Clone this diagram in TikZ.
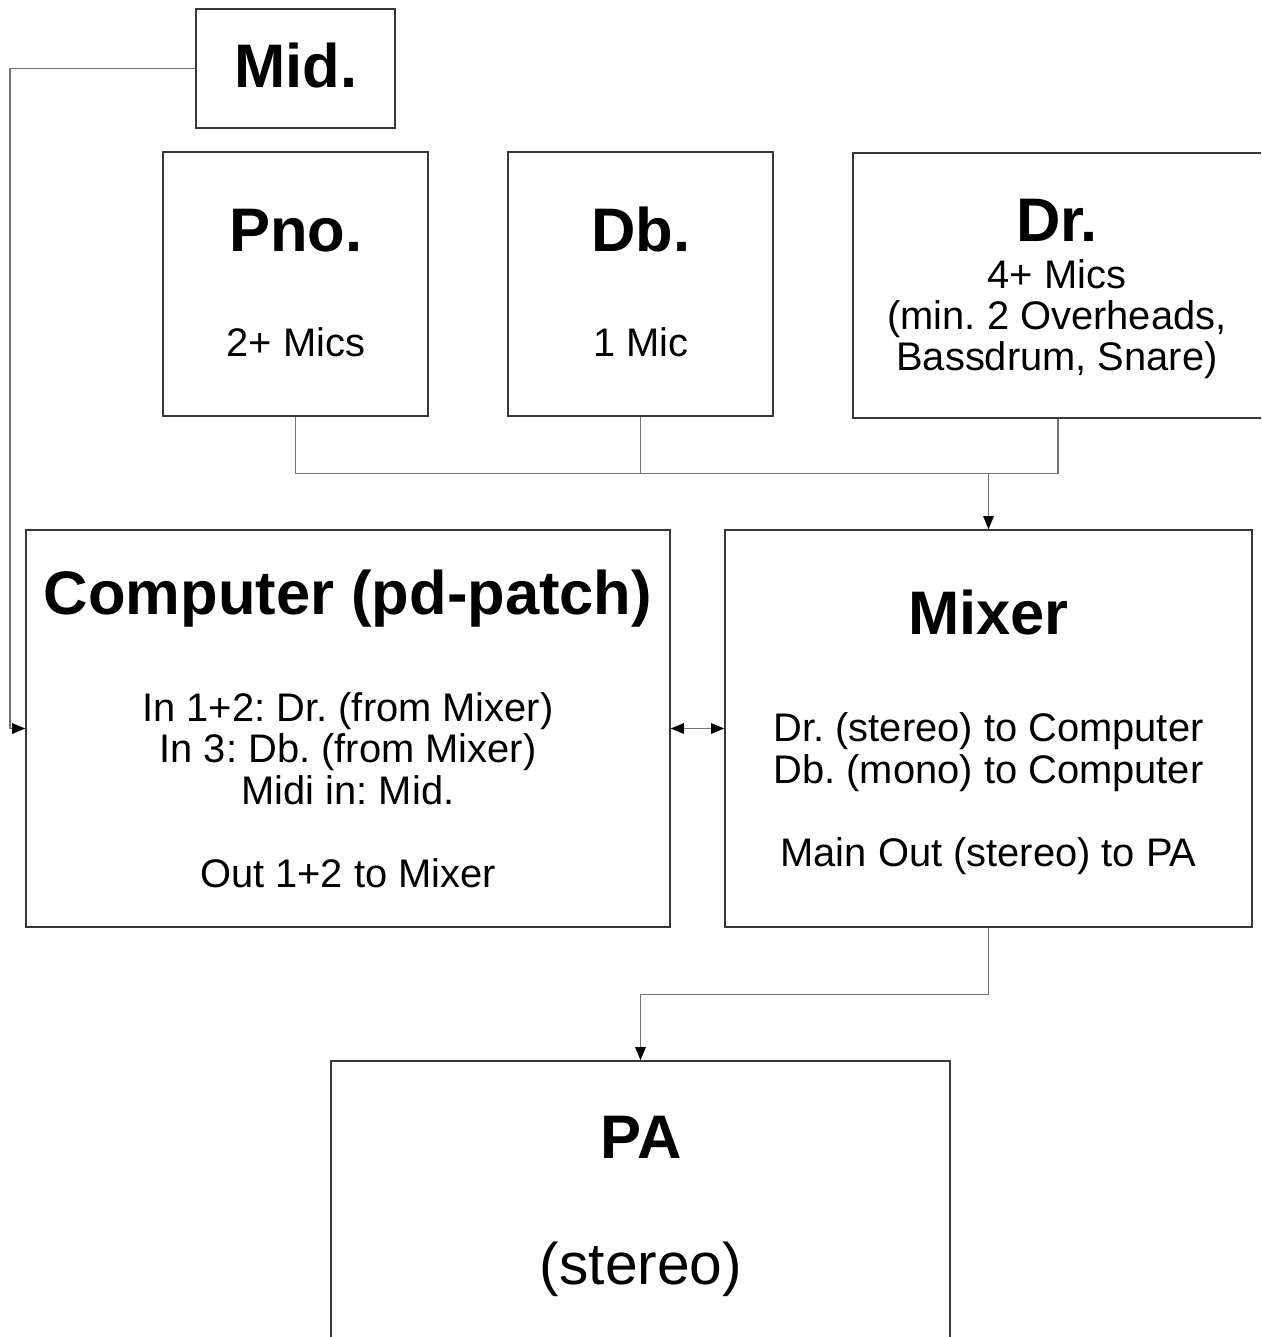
\documentclass[tikz,border=0pt]{standalone}
\usepackage{fontspec}
\setmainfont{Liberation Sans}
\frenchspacing
\usetikzlibrary{arrows.meta}
\tikzset{
  box/.style={draw=black!78, line width=0.9pt, inner sep=0pt},
  link/.style={draw=black!55, line width=0.7pt},
  tip/.style={-{Triangle[length=7.5pt,width=6pt,color=black]}},
  title/.style={anchor=base, font=\fontsize{35}{38}\selectfont\bfseries},
  body/.style={anchor=base, align=center, font=\fontsize{22.7}{23.6}\selectfont},
}
\begin{document}
\begin{tikzpicture}[x=0.02cm, y=-0.02cm]
            % picture frame
            \clip (0,0) rectangle (1261,1337);
            % define boxes
            \node[box, minimum width=3.98cm, minimum height=2.38cm] (mid) at (295.5,68.5) {};
            \node[box, minimum width=5.3cm, minimum height=5.28cm] (pno) at (295.5,284) {};
            \node[box, minimum width=5.3cm, minimum height=5.28cm] (db) at (640.5,284) {};
            \node[box, minimum width=8.2cm, minimum height=5.3cm] (dr) at (1058,285.5) {};
            \node[box, minimum width=12.88cm, minimum height=7.94cm] (comp) at (348,728.5) {};
            \node[box, minimum width=10.54cm, minimum height=7.94cm] (mix) at (988.5,728.5) {};
            \node[box, minimum width=12.38cm, minimum height=7.94cm] (pa) at (640.5,1259.5) {};
            % texts (base = last line)
            \node[title] (midT) at (296,88) {Mid.};
            \node[title] (pnoT) at (296,252) {Pno.};
            \node[body] (pnoB) at (296,357) {2+ Mics};
            \node[title] (dbT) at (641,252) {Db.};
            \node[body] (dbB) at (641,357) {1 Mic};
            \node[title] (drT) at (1057,242) {Dr.};
            \node[body] (drB) at (1057,371) {4+ Mics\\(min. 2 Overheads,\\Bassdrum, Snare)};
            \node[title] (compT) at (348,614) {Computer (pd-patch)};
            \node[body] (compB) at (348,887) {In 1+2: Dr. (from Mixer)\\In 3: Db. (from Mixer)\\Midi in: Mid.\\[23.6pt]Out 1+2 to Mixer};
            \node[title] (mixT) at (988.5,634) {Mixer};
            \node[body] (mixB) at (988.5,866) {Dr. (stereo) to Computer\\Db. (mono) to Computer\\[23.6pt]Main Out (stereo) to PA};
            \node[title] (paT) at (641,1158) {PA};
            \node[anchor=base, font=\fontsize{33.4}{36}\selectfont] (paB) at (641,1284) {(stereo)};
            % connections
            \coordinate (mc) at (10,68.5);
            \draw[link, tip] (mid.west) -- (mc) |- (comp.west);
            \draw[link] (pno.south) -- ++(0,57) coordinate (bus) -| (dr.south);
            \draw[link] (db.south) -- (db.south |- bus);
            \draw[link, tip] (mix.north |- bus) -- (mix.north);
            \draw[link, tip] (mix.south) -- ++(0,67) -| (pa.north);
            \draw[link, {Triangle[length=7.5pt,width=6pt,color=black]}-{Triangle[length=7.5pt,width=6pt,color=black]}] (comp.east) -- (mix.west);
        \end{tikzpicture}
\end{document}
